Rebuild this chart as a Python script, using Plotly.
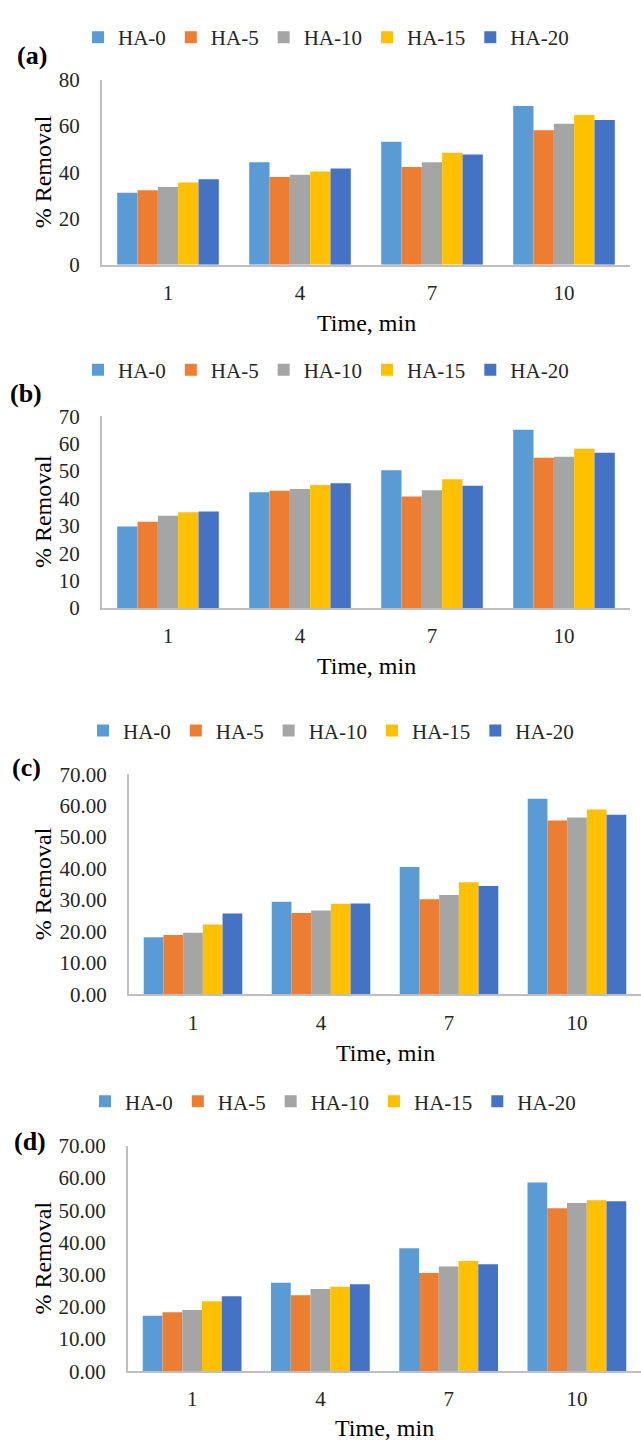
import plotly.graph_objects as go

# ---------------- data ----------------
times = ["1", "4", "7", "10"]
series_names = ["HA-0", "HA-5", "HA-10", "HA-15", "HA-20"]
colors = ["#5B9BD5", "#ED7D31", "#A5A5A5", "#FFC000", "#4472C4"]

# % removal, one row per series (HA-0, HA-5, HA-10, HA-15, HA-20), columns = times
removal_a = [
    [31.2, 44.3, 53.2, 68.7],
    [32.2, 38.0, 42.3, 58.2],
    [33.6, 38.9, 44.3, 61.0],
    [35.6, 40.4, 48.5, 64.8],
    [37.0, 41.7, 47.7, 62.6],
]
removal_b = [
    [29.7, 42.2, 50.3, 65.1],
    [31.5, 42.8, 40.7, 54.8],
    [33.7, 43.4, 43.0, 55.2],
    [34.9, 44.9, 47.0, 58.1],
    [35.2, 45.5, 44.6, 56.7],
]
removal_c = [
    [18.2, 29.5, 40.5, 62.2],
    [18.9, 25.9, 30.3, 55.3],
    [19.6, 26.7, 31.6, 56.2],
    [22.2, 28.8, 35.7, 58.8],
    [25.7, 28.9, 34.5, 57.1],
]
removal_d = [
    [17.2, 27.5, 38.2, 58.6],
    [18.3, 23.6, 30.5, 50.6],
    [19.0, 25.5, 32.5, 52.3],
    [21.7, 26.2, 34.2, 53.1],
    [23.3, 27.0, 33.2, 52.8],
]
panel_labels = ["(a)", "(b)", "(c)", "(d)"]
y_max = [80, 70, 70, 70]
y_step = [20, 10, 10, 10]
y_format = ["", "", ".2f", ".2f"]
x_title = "Time, min"
y_title = "% Removal"

# ---------------- layout (pixels) ----------------
W, H = 641, 1452
FONT = "Liberation Serif, Times New Roman, serif"

panels = [
    dict(vals=removal_a, x0=102, x1=630, ytop=69, ybot=257, leg_y=26, leg_x=92, lab=(32, 44), xt_y=316),
    dict(vals=removal_b, x0=102, x1=630, ytop=411, ybot=606, leg_y=364, leg_x=92, lab=(26, 388), xt_y=665),
    dict(vals=removal_c, x0=129, x1=641, ytop=775, ybot=999, leg_y=731, leg_x=97, lab=(26, 768), xt_y=1058),
    dict(vals=removal_d, x0=128, x1=641, ytop=1153, ybot=1382, leg_y=1108, leg_x=99, lab=(30, 1148), xt_y=1440),
]


def px(x):
    return x / W


def py(y):
    return 1 - y / H


fig = go.Figure()
annotations = []
layout = dict(
    width=W, height=H,
    margin=dict(l=0, r=0, t=0, b=0),
    paper_bgcolor="white", plot_bgcolor="white",
    barmode="group", bargap=0.23, bargroupgap=0,
    font=dict(family=FONT, size=21, color="#262626"),
)

for i, p in enumerate(panels):
    n = i + 1
    xa = "x" if n == 1 else f"x{n}"
    ya = "y" if n == 1 else f"y{n}"
    leg = "legend" if n == 1 else f"legend{n}"
    for s, name in enumerate(series_names):
        fig.add_trace(go.Bar(
            x=times, y=p["vals"][s], name=name,
            marker=dict(color=colors[s], line=dict(width=0)),
            xaxis=xa, yaxis=ya, legend=leg, offsetgroup=str(s),
        ))
    xkey = "xaxis" if n == 1 else f"xaxis{n}"
    ykey = "yaxis" if n == 1 else f"yaxis{n}"
    layout[xkey] = dict(
        domain=[px(p["x0"]), px(p["x1"])], anchor=ya, type="category",
        showline=True, linecolor="#BFBFBF", linewidth=2,
        showgrid=False, ticks="", ticklabelstandoff=8,
        tickfont=dict(family=FONT, size=21, color="#262626"),
        fixedrange=True,
    )
    layout[ykey] = dict(
        domain=[py(p["ybot"]), py(p["ytop"])], anchor=xa,
        range=[0, y_max[i]], dtick=y_step[i], tick0=0, tickformat=y_format[i],
        showline=True, linecolor="#BFBFBF", linewidth=2,
        showgrid=False, zeroline=False, ticks="", ticklabelstandoff=16,
        tickfont=dict(family=FONT, size=21, color="#262626"),
        fixedrange=True,
    )
    layout[leg] = dict(
        orientation="h", x=px(p["leg_x"] - 14), xanchor="left",
        y=py(p["leg_y"]), yanchor="middle",
        bgcolor="rgba(0,0,0,0)", borderwidth=0,
        font=dict(family=FONT, size=21, color="#262626"),
        itemwidth=30, traceorder="normal",
    )
    # panel label
    annotations.append(dict(
        text=f"<b>{panel_labels[i]}</b>", xref="paper", yref="paper",
        x=px(p["lab"][0]), y=py(p["lab"][1]), xanchor="center", yanchor="middle",
        showarrow=False, font=dict(family=FONT, size=26, color="black"),
    ))
    # y title
    annotations.append(dict(
        text=y_title, xref="paper", yref="paper", textangle=-90,
        x=px(43), y=py((p["ytop"] + p["ybot"]) / 2), xanchor="center", yanchor="middle",
        showarrow=False, font=dict(family=FONT, size=24, color="black"),
    ))
    # x title
    annotations.append(dict(
        text=x_title, xref="paper", yref="paper",
        x=px((p["x0"] + p["x1"]) / 2), y=py(p["xt_y"]), xanchor="center", yanchor="middle",
        showarrow=False, font=dict(family=FONT, size=24, color="black"),
    ))

layout["annotations"] = annotations
fig.update_layout(**layout)
fig.write_html("out.html", config={"displayModeBar": False})
